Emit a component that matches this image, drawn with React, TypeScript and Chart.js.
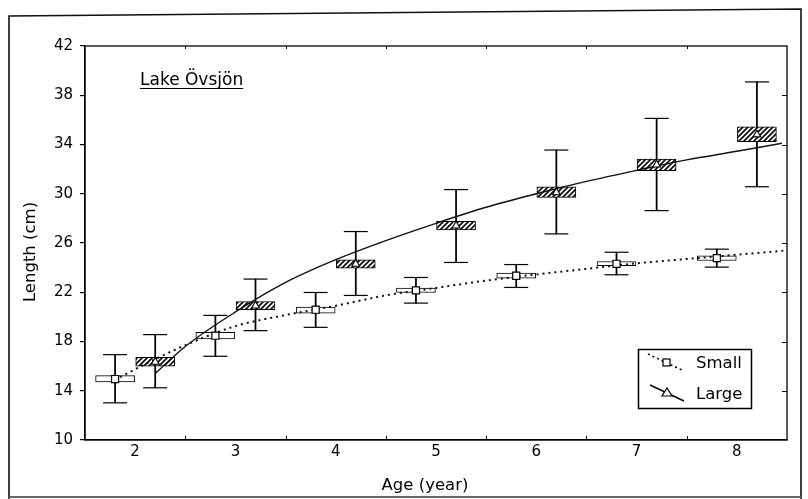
import React, { useEffect, useRef } from "react";
import { Chart, registerables } from "chart.js";

Chart.register(...registerables);

// ---- data ----
const ages = [2, 3, 4, 5, 6, 7, 8];
const yTicks = [10, 14, 18, 22, 26, 30, 34, 38, 42];

const smallMean = [14.95, 18.47, 20.58, 22.15, 23.34, 24.31, 24.77];
const smallBoxLow = [14.72, 18.21, 20.31, 21.98, 23.15, 24.15, 24.58];
const smallBoxHigh = [15.23, 18.74, 20.8, 22.34, 23.56, 24.5, 24.96];
const smallWhiskerLow = [13.02, 16.8, 19.15, 21.12, 22.39, 23.42, 24.04];
const smallWhiskerHigh = [16.93, 20.12, 21.98, 23.2, 24.25, 25.25, 25.5];

const largeMean = [16.34, 20.9, 24.3, 27.4, 30.1, 32.35, 34.8];
const largeBoxLow = [15.99, 20.58, 23.96, 27.07, 29.71, 31.87, 34.22];
const largeBoxHigh = [16.72, 21.25, 24.63, 27.75, 30.57, 32.82, 35.44];
const largeWhiskerLow = [14.24, 18.88, 21.74, 24.42, 26.74, 28.63, 30.57];
const largeWhiskerHigh = [18.56, 23.07, 26.93, 30.34, 33.55, 36.12, 39.08];

// fitted growth curves
const smallCurveAge = [1.85, 2.0, 2.5, 3.0, 3.5, 4.0, 4.5, 5.0, 5.5, 6.0, 6.5, 7.0, 7.5, 8.0, 8.5];
const smallCurveLength = [15.1, 15.75, 17.7, 19.25, 20.15, 20.9, 21.75, 22.35, 22.95, 23.45, 23.9, 24.35, 24.7, 25.05, 25.4];
const largeCurveAge = [2.2, 2.5, 3.0, 3.5, 4.0, 4.5, 5.0, 5.5, 6.0, 6.5, 7.0, 7.5, 8.0, 8.45];
const largeCurveLength = [15.4, 17.6, 20.4, 22.8, 24.65, 26.2, 27.6, 28.9, 30.0, 31.0, 31.9, 32.75, 33.45, 34.1];

const xTitle = "Age (year)";
const yTitle = "Length (cm)";
const lakeLabel = "Lake Övsjön";
const seriesNames = ["Small", "Large"];

const FONT = "'DejaVu Sans', 'Liberation Sans', Arial, sans-serif";
const OFFSET = 0.2; // horizontal dodge of the two groups

function makeHatch(): CanvasPattern | string {
  const c = document.createElement("canvas");
  c.width = 5;
  c.height = 5;
  const g = c.getContext("2d");
  if (!g) return "#555";
  g.fillStyle = "#fff";
  g.fillRect(0, 0, 5, 5);
  g.strokeStyle = "#111";
  g.lineWidth = 1.8;
  g.beginPath();
  g.moveTo(-1, 6);
  g.lineTo(6, -1);
  g.moveTo(-1, 1);
  g.lineTo(1, -1);
  g.moveTo(4, 6);
  g.lineTo(6, 4);
  g.stroke();
  return g.createPattern(c, "repeat") || "#555";
}

const decorPlugin = {
  id: "decor",
  beforeDraw(chart: any) {
    const ctx = chart.ctx as CanvasRenderingContext2D;
    ctx.save();
    ctx.fillStyle = "#fff";
    ctx.fillRect(0, 0, chart.width, chart.height);
    // outer frame of the scanned figure
    ctx.strokeStyle = "#111";
    ctx.lineWidth = 1.6;
    ctx.beginPath();
    ctx.moveTo(9, 499);
    ctx.lineTo(9, 16);
    ctx.lineTo(801, 9);
    ctx.lineTo(801, 499);
    ctx.stroke();
    ctx.strokeStyle = "#666";
    ctx.lineWidth = 2;
    ctx.beginPath();
    ctx.moveTo(9, 497);
    ctx.lineTo(801, 497);
    ctx.stroke();
    ctx.restore();
  },
  afterDraw(chart: any) {
    const ctx = chart.ctx as CanvasRenderingContext2D;
    const a = chart.chartArea;
    const xs = chart.scales.x;
    const ys = chart.scales.y;
    ctx.save();
    ctx.strokeStyle = "#000";
    ctx.lineWidth = 1.3;
    ctx.strokeRect(a.left, a.top, a.right - a.left, a.bottom - a.top);

    // inward tick marks: bottom/top between ages, right at y ticks
    ctx.lineWidth = 1;
    ctx.beginPath();
    ages.slice(0, -1).forEach((v) => {
      const px = Math.round(xs.getPixelForValue(v + 0.5)) + 0.5;
      ctx.moveTo(px, a.bottom);
      ctx.lineTo(px, a.bottom - 4);
      ctx.moveTo(px, a.top);
      ctx.lineTo(px, a.top + 3);
    });
    yTicks.slice(1, -1).forEach((v) => {
      const py = Math.round(ys.getPixelForValue(v)) + 0.5;
      ctx.moveTo(a.right, py);
      ctx.lineTo(a.right - 5, py);
    });
    ctx.stroke();

    ctx.fillStyle = "#000";
    // axis titles
    ctx.font = `16.5px ${FONT}`;
    ctx.textAlign = "center";
    ctx.textBaseline = "middle";
    ctx.fillText(xTitle, 425, 486);
    ctx.save();
    ctx.translate(31, 252);
    ctx.rotate(-Math.PI / 2);
    ctx.fillText(yTitle, 0, 0);
    ctx.restore();

    // lake label, underlined
    ctx.font = `17px ${FONT}`;
    ctx.textAlign = "left";
    ctx.textBaseline = "alphabetic";
    const lx = a.left + 55;
    const ly = a.top + 39;
    ctx.fillText(lakeLabel, lx, ly);
    const w = ctx.measureText(lakeLabel).width;
    ctx.lineWidth = 1.2;
    ctx.beginPath();
    ctx.moveTo(lx, ly + 3.5);
    ctx.lineTo(lx + w, ly + 3.5);
    ctx.stroke();

    // legend
    const bx = a.right - 149;
    const by = a.bottom - 91;
    ctx.lineWidth = 1.5;
    ctx.strokeRect(bx + 0.5, by + 0.5, 113, 59);
    // small entry
    ctx.lineWidth = 1.6;
    ctx.setLineDash([2, 3]);
    ctx.beginPath();
    ctx.moveTo(bx + 10, by + 5);
    ctx.lineTo(bx + 46, by + 22);
    ctx.stroke();
    ctx.setLineDash([]);
    ctx.fillStyle = "#fff";
    ctx.lineWidth = 1.2;
    ctx.fillRect(bx + 25, by + 10, 7, 7);
    ctx.strokeRect(bx + 25, by + 10, 7, 7);
    // large entry
    ctx.lineWidth = 1.4;
    ctx.beginPath();
    ctx.moveTo(bx + 12, by + 36);
    ctx.lineTo(bx + 46, by + 52);
    ctx.stroke();
    ctx.lineWidth = 1.2;
    ctx.beginPath();
    ctx.moveTo(bx + 29, by + 39);
    ctx.lineTo(bx + 34, by + 47);
    ctx.lineTo(bx + 24, by + 47);
    ctx.closePath();
    ctx.fill();
    ctx.stroke();
    ctx.fillStyle = "#000";
    ctx.font = `16.5px ${FONT}`;
    ctx.textBaseline = "middle";
    ctx.fillText(seriesNames[0], bx + 58, by + 15);
    ctx.fillText(seriesNames[1], bx + 58, by + 46);
    ctx.restore();
  },
};

export default function App() {
  const ref = useRef<HTMLCanvasElement | null>(null);

  useEffect(() => {
    if (!ref.current) return;
    const hatch = makeHatch();
    const sx = ages.map((a) => a - OFFSET);
    const lx = ages.map((a) => a + OFFSET);
    const pts = (xs: number[], ys: number[]) => xs.map((x, i) => ({ x, y: ys[i] }));
    const range = (xs: number[], lo: number[], hi: number[]) =>
      xs.map((x, i) => ({ x, y: [lo[i], hi[i]] }));

    const chart = new Chart(ref.current, {
      type: "scatter",
      data: {
        datasets: [
          {
            type: "scatter",
            label: "Small marker",
            data: pts(sx, smallMean),
            pointStyle: "rect",
            pointRadius: 5,
            backgroundColor: "#fff",
            borderColor: "#000",
            borderWidth: 1.2,
            order: 0,
          },
          {
            type: "scatter",
            label: "Large marker",
            data: pts(lx, largeMean),
            pointStyle: "triangle",
            pointRadius: 4.5,
            backgroundColor: "#fff",
            borderColor: "#000",
            borderWidth: 1.1,
            order: 0,
          },
          {
            type: "line",
            label: "Large curve",
            data: pts(largeCurveAge, largeCurveLength),
            borderColor: "#111",
            borderWidth: 1.4,
            pointRadius: 0,
            cubicInterpolationMode: "monotone",
            fill: false,
            order: 1,
          },
          {
            type: "line",
            label: "Small curve",
            data: pts(smallCurveAge, smallCurveLength),
            borderColor: "#111",
            borderWidth: 2,
            borderDash: [2, 4],
            pointRadius: 0,
            cubicInterpolationMode: "monotone",
            fill: false,
            order: 1,
          },
          {
            type: "bar",
            label: "Small box",
            data: range(sx, smallBoxLow, smallBoxHigh) as any,
            barThickness: 39,
            backgroundColor: "#fff",
            borderColor: "#000",
            borderWidth: 1,
            borderSkipped: false,
            grouped: false,
            order: 2,
          },
          {
            type: "bar",
            label: "Large box",
            data: range(lx, largeBoxLow, largeBoxHigh) as any,
            barThickness: 39,
            backgroundColor: hatch as any,
            borderColor: "#000",
            borderWidth: 1,
            borderSkipped: false,
            grouped: false,
            order: 2,
          },
          {
            type: "scatter",
            label: "Caps",
            data: [
              ...pts(sx, smallWhiskerLow),
              ...pts(sx, smallWhiskerHigh),
              ...pts(lx, largeWhiskerLow),
              ...pts(lx, largeWhiskerHigh),
            ],
            pointStyle: "line",
            pointRadius: 12,
            borderColor: "#000",
            borderWidth: 1.2,
            order: 3,
          },
          {
            type: "bar",
            label: "Small whisker",
            data: range(sx, smallWhiskerLow, smallWhiskerHigh) as any,
            barThickness: 1.1,
            backgroundColor: "#000",
            borderWidth: 0,
            grouped: false,
            order: 4,
          },
          {
            type: "bar",
            label: "Large whisker",
            data: range(lx, largeWhiskerLow, largeWhiskerHigh) as any,
            barThickness: 1.1,
            backgroundColor: "#000",
            borderWidth: 0,
            grouped: false,
            order: 4,
          },
        ] as any,
      },
      options: {
        responsive: false,
        animation: false,
        devicePixelRatio: 1,
        layout: { padding: { left: 0, right: 21, top: 46, bottom: 0 } },
        plugins: {
          legend: { display: false },
          tooltip: { enabled: false },
          title: { display: false },
        },
        scales: {
          x: {
            type: "linear",
            min: 1.5,
            max: 8.5,
            offset: false,
            grid: { display: false, drawTicks: false, tickLength: 0 },
            border: { display: true, color: "#000", width: 1.3 },
            ticks: {
              color: "#000",
              font: { family: FONT, size: 15 },
              padding: 3,
              maxRotation: 0,
              autoSkip: false,
            },
            afterBuildTicks: (s: any) => {
              s.ticks = ages.map((v) => ({ value: v }));
            },
            afterFit: (s: any) => {
              s.height = 59;
            },
          },
          y: {
            type: "linear",
            min: 10,
            max: 42,
            grid: {
              display: true,
              drawOnChartArea: false,
              drawTicks: true,
              tickLength: 5,
              color: "#000",
              lineWidth: 1.2,
            },
            border: { display: true, color: "#000", width: 1.3 },
            ticks: {
              color: "#000",
              font: { family: FONT, size: 15 },
              padding: 7,
              autoSkip: false,
            },
            afterBuildTicks: (s: any) => {
              s.ticks = yTicks.map((v) => ({ value: v }));
            },
            afterFit: (s: any) => {
              s.width = 85;
            },
          },
        },
      } as any,
      plugins: [decorPlugin],
    });
    return () => chart.destroy();
  }, []);

  return (
    <div style={{ position: "absolute", left: 0, top: 0, width: 808, height: 499, background: "#fff" }}>
      <canvas ref={ref} width={808} height={499} style={{ display: "block" }} />
    </div>
  );
}
